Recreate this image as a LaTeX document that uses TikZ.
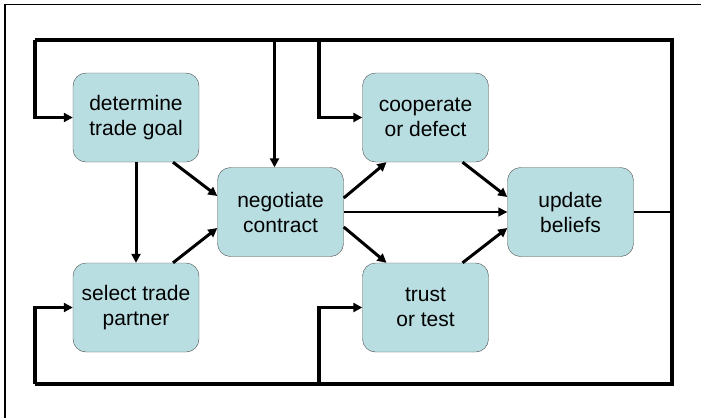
\documentclass[tikz,border=0pt]{standalone}
\usepackage{fontspec}
\setmainfont{Liberation Sans}
\usetikzlibrary{arrows.meta}

\definecolor{stepfill}{RGB}{185,222,226}

\begin{document}
\begin{tikzpicture}[
    x=1pt, y=-1pt,
    every node/.style={font=\fontsize{21}{25}\selectfont},
    >={Triangle[length=9pt,width=9pt]},
    stepbox/.style={draw=black!70, fill=stepfill, rounded corners=13pt,
        minimum width=126pt, minimum height=89pt, inner sep=0pt, align=center},
    link/.style={->, line width=3pt},
    loopline/.style={line width=3.2pt},
]
\useasboundingbox (0,0) rectangle (701,418);

% === page frame (left and top edges only) ===
\draw[line width=1.2pt] (5,418) -- (5,4.5) -- (701,4.5);

% === steps ===
\def\colA{136}
\def\colB{280.5}
\def\colC{425.5}
\def\colD{570.5}

\node[stepbox] (goal) at (\colA,117.5) {determine\\trade goal};
\node[stepbox] (partner) at (\colA,307.5) {select trade\\partner};
\node[stepbox] (contract) at (\colB,212) {negotiate\\contract};
\node[stepbox] (defect) at (\colC,117.5) {cooperate\\or defect};
\node[stepbox] (test) at (\colC,307.5) {trust\\or test};
\node[stepbox] (beliefs) at (\colD,212) {update\\beliefs};

% === forward links ===
\draw[link] (goal.south) -- (partner.north);
\draw[link] ([xshift=37]goal.south) -- ([yshift=16]contract.west);
\draw[link] ([xshift=37]partner.north) -- ([yshift=-16]contract.west);
\draw[link] ([yshift=14]contract.east) -- ([xshift=-39]defect.south);
\draw[link] ([yshift=-15]contract.east) -- ([xshift=-39]test.north);
\draw[->, line width=1.6pt] (contract.east) -- (beliefs.west);
\draw[link] ([xshift=37]defect.south) -- ([yshift=15]beliefs.west);
\draw[link] ([xshift=37]test.north) -- ([yshift=-16]beliefs.west);

% === feedback loop ===
\coordinate (topL) at (35,40);
\coordinate (topR) at (672,40);
\coordinate (botR) at (672,384);
\coordinate (botL) at (35,384);
\coordinate (midX) at (319,40);

\draw[line width=2.2pt] (beliefs.east) -- (beliefs.east -| topR);
\draw[loopline] (topL) -- (topR) -- (botR) -- (botL);
\draw[loopline, ->] (topL) |- (goal.west);
\draw[loopline, ->] (botL) |- (partner.west);
\draw[loopline, ->] ([xshift=-6]contract.north |- topL) -- ([xshift=-6]contract.north);
\draw[loopline, ->] (midX) |- (defect.west);
\draw[loopline, ->] (midX |- botL) |- (test.west);

\end{tikzpicture}
\end{document}
